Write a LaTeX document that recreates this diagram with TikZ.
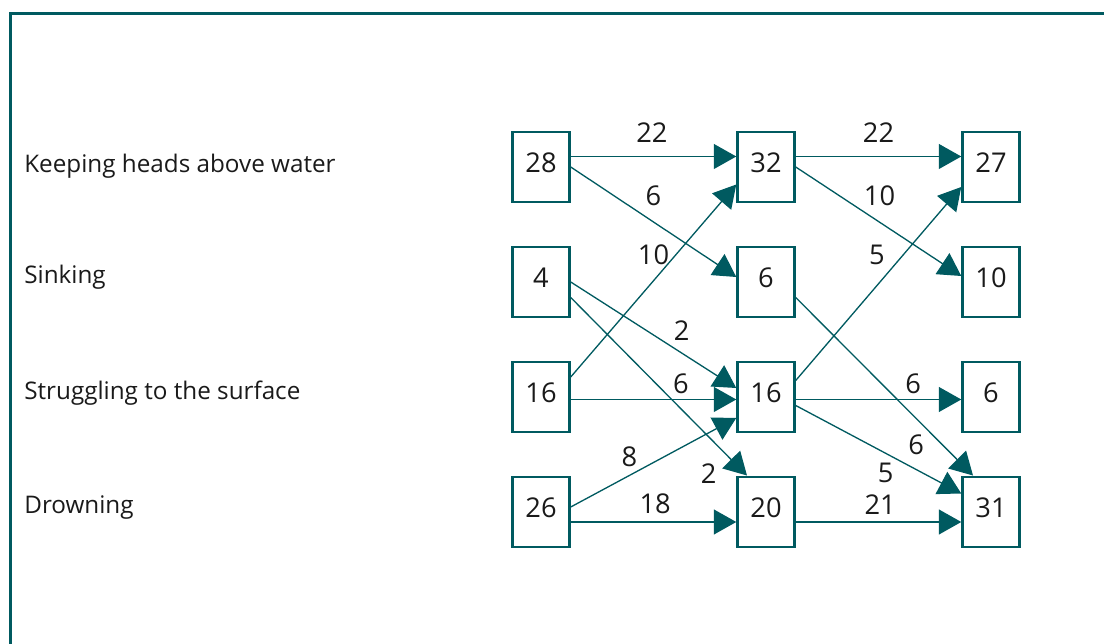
\documentclass[tikz,border=0pt]{standalone}
\usepackage{fontspec}
\setmainfont{Open Sans}
\usetikzlibrary{arrows.meta}
\definecolor{waterteal}{RGB}{0,90,96}
\definecolor{ink}{RGB}{26,26,26}

\begin{document}
\begin{tikzpicture}[
  box/.style={draw=waterteal, line width=1.4pt, minimum width=1.14cm, minimum height=1.41cm, text depth=0.16cm, text=ink, font=\fontsize{15.5}{18}\selectfont},
  flow/.style={draw=waterteal, line width=0.75pt, -{Triangle[length=0.45cm,width=0.5cm]}},
  lbl/.style={inner sep=2pt, text=ink, font=\fontsize{15.5}{18}\selectfont},
  row/.style={anchor=base west, inner sep=0pt, text=ink, font=\fontsize{13.8}{16}\selectfont}
]
\clip (0,0) rectangle (22.08,12.88);
\draw[waterteal, line width=1.7pt] (0.214,-1) -- (0.214,12.61) -- (23,12.61);

\node[row] (keep) at (0.48,9.434) {Keeping heads above water};
\node[row] (sink) at (0.48,7.2) {Sinking};
\node[row] (strug) at (0.48,4.894) {Struggling to the surface};
\node[row] (drown) at (0.48,2.6) {Drowning};

\foreach \r/\n in {1/28,2/4,3/16,4/26} {\node[box] (a\r) at (10.82,{11.84-2.3*\r}) {\n};}
\foreach \r/\n in {1/32,2/6,3/16,4/20} {\node[box] (b\r) at (15.32,{11.84-2.3*\r}) {\n};}
\foreach \r/\n in {1/27,2/10,3/6,4/31} {\node[box] (c\r) at (19.82,{11.84-2.3*\r}) {\n};}

\draw[flow] ([yshift=0.21cm]a1.east) -- node[lbl, pos=0.49, above=5.5pt] {22} ([yshift=0.21cm]b1.west);
\draw[flow] (a1.east) -- node[lbl, pos=0.5, above=6.7pt] {6} ([yshift=0.1cm]b2.west);
\draw[flow] ([yshift=0.4cm]a3.east) -- node[lbl, pos=0.5, above=7pt] {10} ([yshift=-0.35cm]b1.west);
\draw[flow] (a2.east) -- node[lbl, pos=0.67, above=4.8pt] {2} ([yshift=0.18cm]b3.west);
\draw[flow] ([yshift=-0.31cm]a2.east) -- node[lbl, pos=0.88, below left=3pt] {2} ([xshift=-0.38cm]b4.north);
\draw[flow] ([yshift=-0.05cm]a3.east) -- node[lbl, pos=0.665, above=0.6pt] {6} ([yshift=-0.05cm]b3.west);
\draw[flow] ([yshift=0.1cm]a4.east) -- node[lbl, pos=0.355, above=2.7pt] {8} ([yshift=-0.42cm]b3.west);
\draw[flow] ([yshift=-0.2cm]a4.east) -- node[lbl, pos=0.51, above=2.4pt] {18} ([yshift=-0.2cm]b4.west);

\draw[flow] ([yshift=0.21cm]b1.east) -- node[lbl, pos=0.5, above=5.5pt] {22} ([yshift=0.21cm]c1.west);
\draw[flow] (b1.east) -- node[lbl, pos=0.506, above=6.9pt] {10} ([yshift=0.12cm]c2.west);
\draw[flow] ([yshift=0.33cm]b3.east) -- node[lbl, pos=0.49, above=9.4pt] {5} ([yshift=-0.4cm]c1.west);
\draw[flow] ([yshift=-0.31cm]b2.east) -- node[lbl, pos=0.747, below left] {6} ([xshift=-0.36cm]c4.north);
\draw[flow] ([yshift=-0.05cm]b3.east) -- node[lbl, pos=0.71, above=1.1pt] {6} ([yshift=-0.05cm]c3.west);
\draw[flow] ([yshift=-0.17cm]b3.east) -- node[lbl, pos=0.543, below=3pt] {5} ([yshift=0.37cm]c4.west);
\draw[flow] ([yshift=-0.2cm]b4.east) -- node[lbl, pos=0.51, above=2pt] {21} ([yshift=-0.2cm]c4.west);
\end{tikzpicture}
\end{document}
